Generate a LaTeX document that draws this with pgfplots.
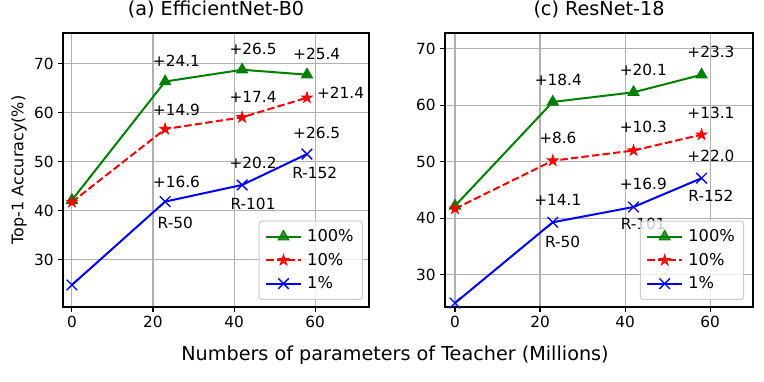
\documentclass[border=0pt]{standalone}
\usepackage{fontspec}
\setmainfont{DejaVu Sans}
\usepackage{pgfplots}
\pgfplotsset{compat=1.18}

\definecolor{mplgreen}{RGB}{0,128,0}
\definecolor{gridc}{HTML}{B0B0B0}
\definecolor{legedge}{HTML}{CCCCCC}

% filled five-pointed star like matplotlib's '*'
\pgfdeclareplotmark{fstar}{%
  \pgfpathmoveto{\pgfpointpolar{90}{\pgfplotmarksize}}%
  \pgfpathlineto{\pgfpointpolar{126}{0.382\pgfplotmarksize}}%
  \pgfpathlineto{\pgfpointpolar{162}{\pgfplotmarksize}}%
  \pgfpathlineto{\pgfpointpolar{198}{0.382\pgfplotmarksize}}%
  \pgfpathlineto{\pgfpointpolar{234}{\pgfplotmarksize}}%
  \pgfpathlineto{\pgfpointpolar{270}{0.382\pgfplotmarksize}}%
  \pgfpathlineto{\pgfpointpolar{306}{\pgfplotmarksize}}%
  \pgfpathlineto{\pgfpointpolar{342}{0.382\pgfplotmarksize}}%
  \pgfpathlineto{\pgfpointpolar{18}{\pgfplotmarksize}}%
  \pgfpathlineto{\pgfpointpolar{54}{0.382\pgfplotmarksize}}%
  \pgfpathclose\pgfusepathqfillstroke}

\newcommand{\tickfont}{\fontsize{11.5}{13}\selectfont}
\newcommand{\labfont}{\fontsize{12}{14}\selectfont}
\newcommand{\legfont}{\fontsize{12.2}{14}\selectfont}
\newcommand{\annfont}{\fontsize{11.8}{14}\selectfont}
\newcommand{\bigfont}{\fontsize{14.4}{17}\selectfont}

\pgfplotsset{
  panel/.style={
    scale only axis,
    anchor=south west,
    xtick={0,20,40,60},
    ytick={30,40,50,60,70},
    grid=major,
    grid style={color=gridc, line width=0.8pt},
    axis line style={line width=0.8pt},
    tick align=outside,
    major tick length=3.5pt,
    tick style={black, line width=0.8pt},
    xtick pos=bottom, ytick pos=left,
    tick label style={font=\tickfont},
    /pgf/number format/assume math mode=true,
    title style={font=\bigfont, at={(axis description cs:0.5,1.055)}, anchor=center},
    legend cell align=left,
    legend style={anchor=south east, draw=legedge, line width=0.8pt,
      fill=white, fill opacity=0.8, text opacity=1, rounded corners=2pt,
      font=\legfont, row sep=3pt, column sep=2pt,
      inner xsep=4.5pt, inner ysep=4.5pt},
    legend image code/.code={%
      \draw[mark repeat=2, mark phase=2, ##1]
        plot coordinates {(0pt,0pt) (13pt,0pt) (26pt,0pt)};},
    every node/.append style={font=\annfont},
  },
  full/.style={color=mplgreen, line width=1.5pt, mark=triangle*, mark size=4.7pt,
    mark options={line width=0.8pt}},
  ten/.style={color=red, line width=1.5pt, dash pattern=on 5.55pt off 2.4pt,
    mark=fstar, mark size=4pt, mark options={solid, line width=0.8pt, fill=red}},
  one/.style={color=blue, line width=1.5pt, mark=x, mark size=5.6pt,
    mark options={line width=1pt}},
}

\begin{document}
\begin{tikzpicture}[font=\tickfont]
\useasboundingbox (0,0) rectangle (573pt,286.5pt);

\begin{axis}[panel,
  at={(47.25pt,56.25pt)}, width=229.5pt, height=205.5pt,
  xmin=-2.2, xmax=73.3, ymin=20.4, ymax=76.3,
  title={(a) EfficientNet-B0},
  ylabel={Top-1 Accuracy(\%)},
  ylabel style={font=\labfont, at={(axis description cs:-0.144,0.5)}, anchor=center},
  legend style={at={(0.980,0.026)}},
]
\addplot[full] coordinates {(0,42.2) (23,66.4) (42,68.8) (58,67.8)};
\addlegendentry{100\%}
\addplot[ten] coordinates {(0,41.8) (23,56.7) (42,59.1) (58,63.1)};
\addlegendentry{10\%}
\addplot[one] coordinates {(0,24.9) (23,41.9) (42,45.3) (58,51.6)};
\addlegendentry{1\%}
\node at (axis cs:25.8,70.6) {+24.1};
\node at (axis cs:44.7,73.1) {+26.5};
\node at (axis cs:60.4,72.0) {+25.4};
\node at (axis cs:25.8,60.6) {+14.9};
\node at (axis cs:44.7,63.3) {+17.4};
\node at (axis cs:66.3,64.1) {+21.4};
\node at (axis cs:25.8,45.9) {+16.6};
\node at (axis cs:44.7,49.8) {+20.2};
\node at (axis cs:60.4,55.9) {+26.5};
\node at (axis cs:25.5,37.6) {R-50};
\node at (axis cs:44.7,41.4) {R-101};
\node at (axis cs:59.9,47.8) {R-152};
\end{axis}

\begin{axis}[panel,
  at={(333.75pt,56.25pt)}, width=231pt, height=205.5pt,
  xmin=-2.35, xmax=70.1, ymin=24.3, ymax=72.8,
  title={(c) ResNet-18},
  legend style={at={(0.971,0.026)}},
]
\addplot[full] coordinates {(0,42.2) (23,60.6) (42,62.3) (58,65.4)};
\addlegendentry{100\%}
\addplot[ten] coordinates {(0,41.7) (23,50.2) (42,52.0) (58,54.8)};
\addlegendentry{10\%}
\addplot[one] coordinates {(0,25.0) (23,39.3) (42,42.0) (58,47.1)};
\addlegendentry{1\%}
\node at (axis cs:24.3,64.5) {+18.4};
\node at (axis cs:44.3,66.3) {+20.1};
\node at (axis cs:60.2,69.4) {+23.3};
\node at (axis cs:24.2,54.2) {+8.6};
\node at (axis cs:44.3,56.1) {+10.3};
\node at (axis cs:60.2,58.6) {+13.1};
\node at (axis cs:24.2,43.3) {+14.1};
\node at (axis cs:44.3,46.1) {+16.9};
\node at (axis cs:60.2,51.1) {+22.0};
\node at (axis cs:25.3,35.9) {R-50};
\node at (axis cs:44.3,39.0) {R-101};
\node at (axis cs:60.2,43.9) {R-152};
\end{axis}

\node[font=\bigfont] at (296.25pt,20.25pt) {Numbers of parameters of Teacher (Millions)};
\end{tikzpicture}
\end{document}
